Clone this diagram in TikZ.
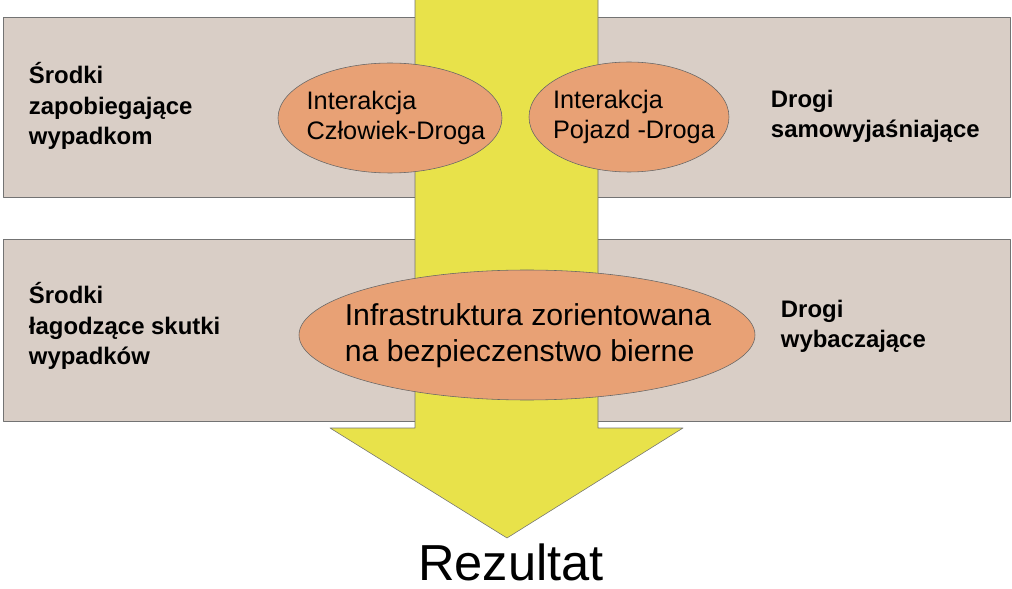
\documentclass[tikz,border=0pt]{standalone}
\usepackage{fontspec}
\setmainfont{Liberation Sans}
\definecolor{bandfill}{RGB}{217,206,198}
\definecolor{ovalfill}{RGB}{232,161,117}
\definecolor{arrowfill}{RGB}{232,226,74}
\tikzset{
  band/.style={draw=black!55,fill=bandfill},
  oval/.style={draw=black!60,fill=ovalfill},
  ovaltext/.style={inner sep=0pt,align=left},
  label/.style={font=\fontsize{17}{21.5}\selectfont\bfseries,align=left,anchor=west}
}
\begin{document}
\begin{tikzpicture}[x=0.025cm,y=-0.025cm,join=round] % two bands crossed by an arrow
        \useasboundingbox (0,0) rectangle (1012,589);
        \draw[band] (3,17) rectangle (1010,197);
        \draw[band] (3,239) rectangle (1010,421);
        \draw[draw=black!55,fill=arrowfill] (415,-2)--(598,-2)--(598,428)--(683,428)--(507,538)--(330,428)--(415,428)--cycle;
        \draw[oval] (390,118) ellipse (112 and 55);
        \draw[oval] (629,117) ellipse (100 and 55);
        \draw[oval] (527,335) ellipse (228 and 65);
        \node[ovaltext,font=\fontsize{18}{21.5}\selectfont] (hr) at (396,118) {Interakcja\\Człowiek-Droga};
        \node[ovaltext,font=\fontsize{18}{21.5}\selectfont] (vr) at (634,117) {Interakcja\\Pojazd -Droga};
        \node[ovaltext,font=\fontsize{21.5}{25.5}\selectfont] (ip) at (528,336) {Infrastruktura zorientowana\\na bezpieczenstwo bierne};
        \node[label] (zp) at (24,106) {Środki\\zapobiegające\\wypadkom};
        \node[label] (sw) at (766,116) {Drogi\\samowyjaśniające};
        \node[label] (ls) at (24,326) {Środki\\łagodzące skutki\\wypadków};
        \node[label] (wb) at (776,326) {Drogi\\wybaczające};
        \node[font=\fontsize{36}{40}\selectfont,inner sep=0pt] (rz) at (511,562) {Rezultat};
\end{tikzpicture}
\end{document}
